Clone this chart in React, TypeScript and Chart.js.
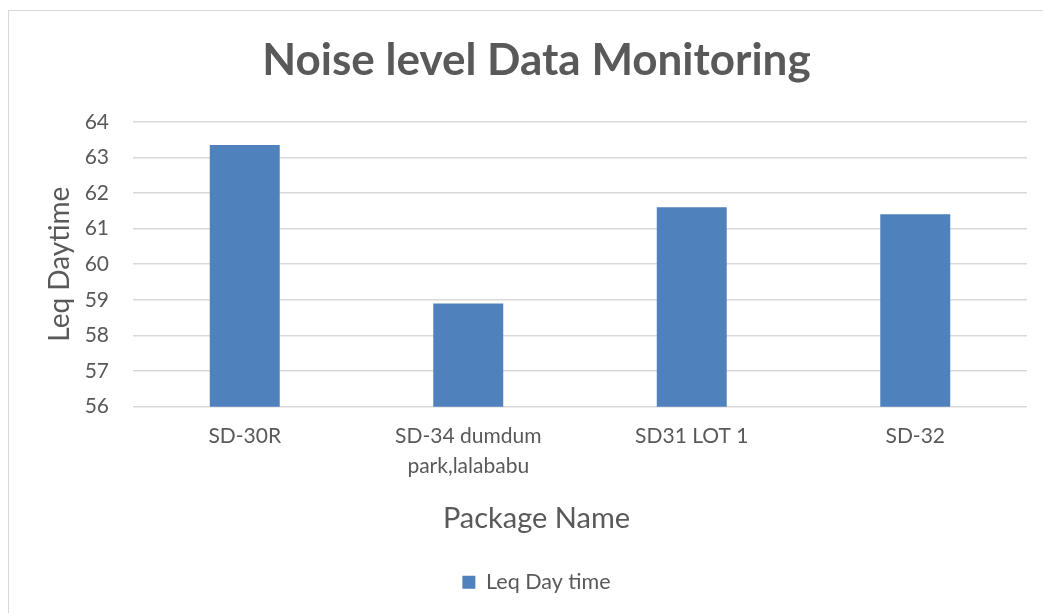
import React, { useEffect, useRef } from "react";
import { Chart, registerables } from "chart.js";

Chart.register(...registerables);

const chartTitle = "Noise level Data Monitoring";
const categories: string[][] = [["SD-30R"], ["SD-34 dumdum", "park,lalababu"], ["SD31 LOT 1"], ["SD-32"]];
const seriesName = "Leq Day time";
const leqDayTime = [63.35, 58.9, 61.6, 61.4];
const yTicks = [56, 57, 58, 59, 60, 61, 62, 63, 64];
const xAxisTitle = "Package Name";
const yAxisTitle = "Leq Daytime";

const FONT = "Lato";
const TEXT = "#595959";
const GRID = "#d9d9d9";
const BAR = "#4f81bd";

export default function App() {
  const ref = useRef<HTMLCanvasElement | null>(null);
  useEffect(() => {
    if (!ref.current) return;
    const chart = new Chart(ref.current, {
      type: "bar",
      data: {
        labels: categories,
        datasets: [
          {
            label: seriesName,
            data: leqDayTime,
            backgroundColor: BAR,
            borderWidth: 0,
            barPercentage: 0.313,
            categoryPercentage: 1,
          },
        ],
      },
      options: {
        animation: false,
        responsive: false,
        maintainAspectRatio: false,
        layout: { padding: { left: 37, right: 32, top: 0, bottom: 28 } },
        plugins: {
          title: {
            display: true,
            text: chartTitle,
            color: TEXT,
            font: { family: FONT, size: 44, weight: "bold", lineHeight: 1.2 },
            padding: { top: 23, bottom: 35 },
          },
          subtitle: {
            display: true,
            text: xAxisTitle,
            position: "bottom",
            weight: 500,
            color: TEXT,
            font: { family: FONT, size: 29, weight: "normal", lineHeight: 1.2 },
            padding: { top: 5, bottom: 25 },
          },
          legend: {
            display: true,
            position: "bottom",
            weight: 1000,
            labels: {
              color: TEXT,
              font: { family: FONT, size: 21.5 },
              boxWidth: 13,
              boxHeight: 13,
              padding: 10,
            },
          },
          tooltip: { enabled: false },
        },
        scales: {
          x: {
            grid: { display: false, drawTicks: false },
            border: { display: false },
            ticks: {
              color: TEXT,
              font: { family: FONT, size: 21, lineHeight: 1.43 },
              padding: 15,
              maxRotation: 0,
              autoSkip: false,
            },
          },
          y: {
            min: yTicks[0],
            max: yTicks[yTicks.length - 1],
            afterBuildTicks: (s: any) => {
              s.ticks = yTicks.map((v) => ({ value: v }));
            },
            afterFit: (s: any) => {
              s.width = 87;
            },
            grid: { color: GRID, lineWidth: 1.5, drawTicks: false },
            border: { display: false },
            ticks: {
              color: TEXT,
              font: { family: FONT, size: 21 },
              padding: 24,
            },
            title: {
              display: true,
              text: yAxisTitle,
              color: TEXT,
              font: { family: FONT, size: 28, lineHeight: 1 },
              padding: { top: 0, bottom: 10 },
            },
          },
        },
      },
    });
    return () => chart.destroy();
  }, []);

  return (
    <div style={{ position: "fixed", left: 0, top: 0, width: 1043, height: 613, overflow: "hidden", background: "#fff" }}>
      <div style={{ position: "absolute", left: 8, top: 10, border: "1px solid #d9d9d9", width: 1050, height: 620 }}>
        <canvas ref={ref} width={1050} height={620} style={{ display: "block", width: 1050, height: 620 }} />
      </div>
    </div>
  );
}
